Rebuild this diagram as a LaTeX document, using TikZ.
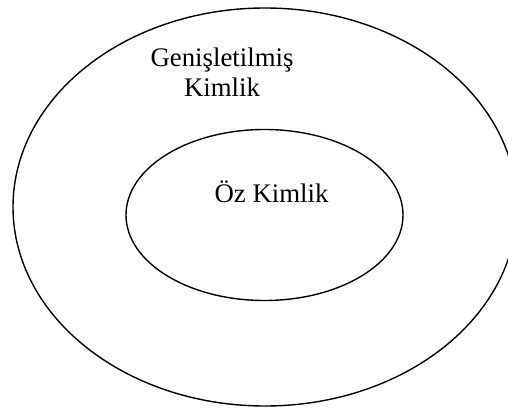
\documentclass[tikz,border=0pt]{standalone}
\usepackage{fontspec}
\setmainfont{Liberation Serif}
\usetikzlibrary{shapes.geometric}
\begin{document}
\begin{tikzpicture}[x=1pt,y=-1pt,
  ring/.style={draw=black, line width=1.4pt, ellipse, inner sep=0pt},
  label/.style={font=\fontsize{26.8}{30}\selectfont, align=center, inner sep=0pt}]
  \useasboundingbox (0,0) rectangle (508,409);
  % outer ring: extended identity
  \node[ring, minimum width=504pt, minimum height=398pt] (outer) at (265,207) {};
  % inner ring: core identity
  \node[ring, minimum width=277pt, minimum height=171pt] (inner) at (264.5,215) {};
  \node[label, anchor=base] (ext) at (222,97) {Genişletilmiş\\Kimlik};
  \node[label, anchor=base] (core) at (271.5,202) {Öz Kimlik};
\end{tikzpicture}
\end{document}
